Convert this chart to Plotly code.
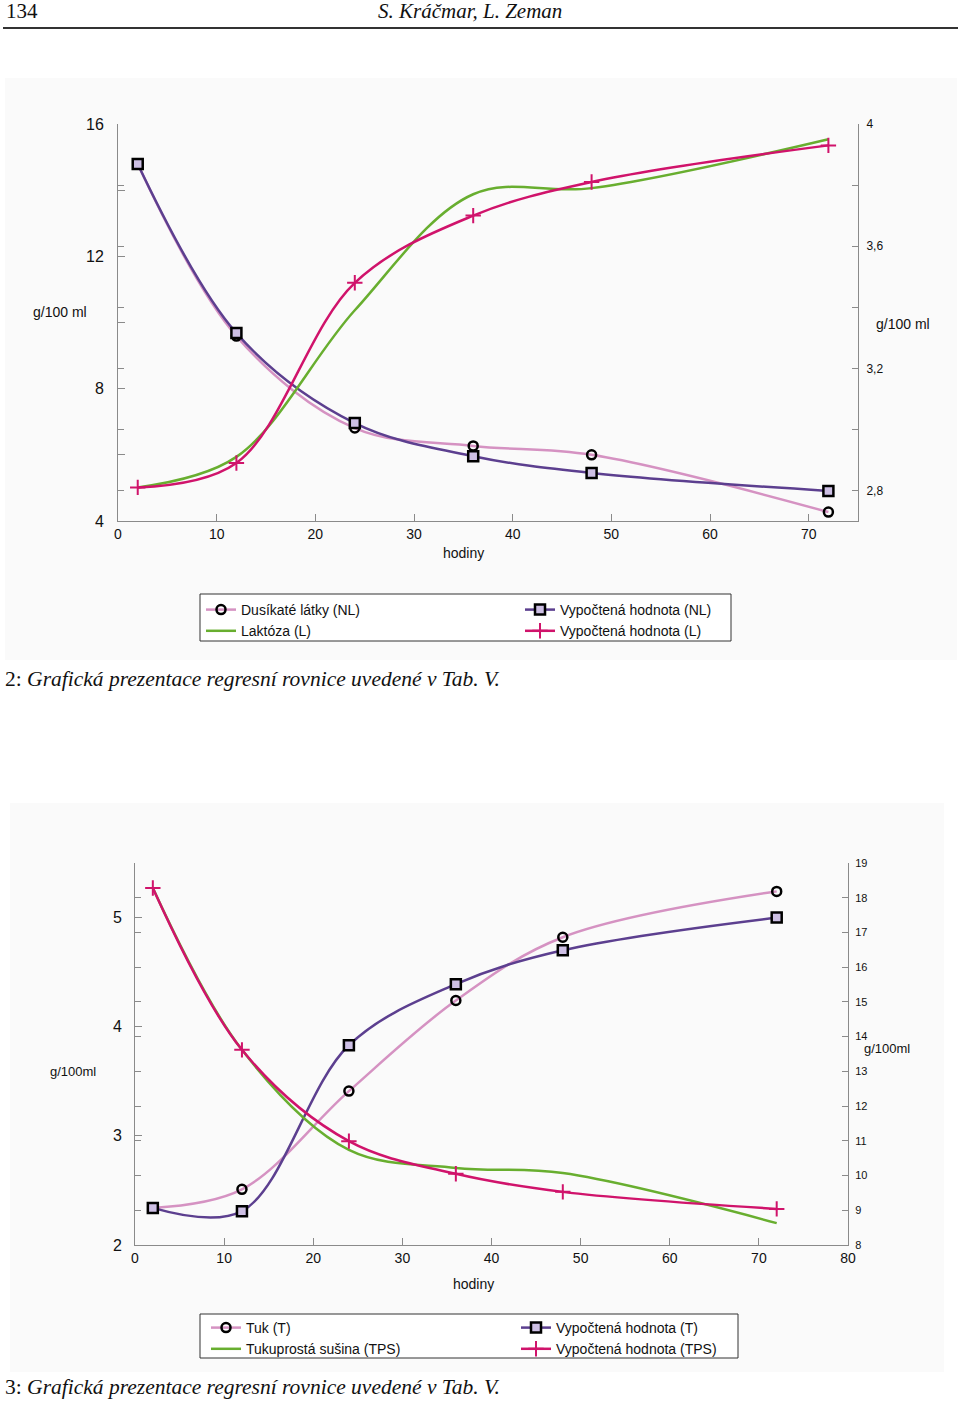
import plotly.graph_objects as go

# ---------------- data ----------------
hours = [2, 12, 24, 36, 48, 72]

# Fig. 2 – nitrogen compounds (left axis) and lactose (right axis), g/100 ml
nl_measured = [14.79, 9.59, 6.81, 6.27, 6.00, 4.27]
nl_calc = [14.79, 9.68, 6.96, 5.96, 5.45, 4.91]
lact_measured = [2.81, 2.91, 3.39, 3.77, 3.79, 3.95]
lact_calc = [2.81, 2.89, 3.48, 3.70, 3.81, 3.93]

# Fig. 3 – fat (left axis) and fat-free dry matter (right axis), g/100 ml
fat_measured = [2.34, 2.51, 3.41, 4.24, 4.82, 5.24]
fat_calc = [2.34, 2.31, 3.83, 4.39, 4.70, 5.00]
tps_measured = [18.28, 13.62, 10.74, 10.22, 10.07, 8.63]
tps_calc = [18.28, 13.62, 10.99, 10.05, 9.53, 9.04]

x_ticks_1 = [0, 10, 20, 30, 40, 50, 60, 70]
x_ticks_2 = [0, 10, 20, 30, 40, 50, 60, 70, 80]
left_ticks_1 = [4, 8, 12, 16]
left_minor_1 = [6, 10, 14]
right_ticks_1 = [2.8, 3.2, 3.6, 4.0]
right_labels_1 = ["2,8", "3,2", "3,6", "4"]
right_minor_1 = [3.0, 3.4, 3.8]
left_ticks_2 = [2, 3, 4, 5]
right_ticks_2 = [8, 9, 10, 11, 12, 13, 14, 15, 16, 17, 18, 19]

names_1 = ["Dusíkaté látky (NL)", "Vypočtená hodnota (NL)", "Laktóza (L)", "Vypočtená hodnota (L)"]
names_2 = ["Tuk (T)", "Vypočtená hodnota (T)", "Tukuprostá sušina (TPS)", "Vypočtená hodnota (TPS)"]

# ---------------- style ----------------
W, H = 960, 1402
ML, MR = 100, 100
PW = W - ML - MR
PINK = "#d592c2"
PURPLE = "#5c3f8f"
GREEN = "#68ae2f"
MAGENTA = "#d0136b"
AXC = "#8a8a8a"
SANS = "Liberation Sans, Arial, sans-serif"
SERIF = "Liberation Serif, Times New Roman, serif"


def px(x):
    return (x - ML) / PW


def py(y):
    return 1 - y / H


circ = dict(symbol="circle-open", size=9, color="black", line=dict(width=2.5, color="black"))
sq = dict(symbol="square", size=10, color="#cdbfe4", line=dict(width=2.5, color="black"))
plus = dict(symbol="cross-thin", size=11, color=MAGENTA, line=dict(width=2, color=MAGENTA))

fig = go.Figure()


def add_chart(xa, yl, yr, leg, m_left, c_left, m_right, c_right, names):
    fig.add_trace(go.Scatter(x=hours, y=m_right, xaxis=xa, yaxis=yr, mode="lines", name=names[2],
                             line=dict(color=GREEN, width=2.5, shape="spline"),
                             legend=leg, legendrank=3))
    fig.add_trace(go.Scatter(x=hours, y=c_right, xaxis=xa, yaxis=yr, mode="lines+markers", name=names[3],
                             line=dict(color=MAGENTA, width=2.5, shape="spline"), marker=plus,
                             legend=leg, legendrank=4))
    fig.add_trace(go.Scatter(x=hours, y=m_left, xaxis=xa, yaxis=yl, mode="lines+markers", name=names[0],
                             line=dict(color=PINK, width=2.5, shape="spline"), marker=circ,
                             legend=leg, legendrank=1))
    fig.add_trace(go.Scatter(x=hours, y=c_left, xaxis=xa, yaxis=yl, mode="lines+markers", name=names[1],
                             line=dict(color=PURPLE, width=2.5, shape="spline"), marker=sq,
                             legend=leg, legendrank=2))


add_chart("x", "y", "y2", "legend", nl_measured, nl_calc, lact_measured, lact_calc, names_1)
add_chart("x2", "y3", "y4", "legend2", fat_measured, fat_calc, tps_measured, tps_calc, names_2)

base_axis = dict(showgrid=False, zeroline=False, showline=True, linecolor=AXC, linewidth=1,
                 ticks="inside", tickcolor=AXC, ticklen=7, automargin=False,
                 tickfont=dict(family=SANS, color="#111"))

fig.update_layout(
    width=W, height=H, template="none",
    margin=dict(l=ML, r=MR, t=0, b=0, pad=0),
    paper_bgcolor="white", plot_bgcolor="rgba(0,0,0,0)",
    font=dict(family=SANS, color="#111"),
    xaxis=dict(base_axis, domain=[px(118), px(858)], anchor="y", range=[0, 75],
               tickvals=x_ticks_1, tickfont=dict(family=SANS, size=14, color="#111")),
    yaxis=dict(base_axis, domain=[py(521), py(124)], anchor="x", range=[4, 16],
               tickvals=left_ticks_1, ticklabelstandoff=10,
               minor=dict(tickvals=left_minor_1, ticks="inside", ticklen=7, tickcolor=AXC),
               tickfont=dict(family=SANS, size=16, color="#111")),
    yaxis2=dict(base_axis, overlaying="y", side="right", anchor="x", range=[2.7, 4],
                tickvals=right_ticks_1, ticktext=right_labels_1, mirror="ticks", ticklen=6,
                ticklabelstandoff=5,
                minor=dict(tickvals=right_minor_1, ticks="inside", ticklen=6, tickcolor=AXC),
                tickfont=dict(family=SANS, size=12, color="#111")),
    xaxis2=dict(base_axis, domain=[px(135), px(848)], anchor="y3", range=[0, 80],
                tickvals=x_ticks_2, tickfont=dict(family=SANS, size=14, color="#111")),
    yaxis3=dict(base_axis, domain=[py(1245), py(863)], anchor="x2", range=[2, 5.5],
                tickvals=left_ticks_2, ticklabelstandoff=9,
                tickfont=dict(family=SANS, size=16, color="#111")),
    yaxis4=dict(base_axis, overlaying="y3", side="right", anchor="x2", range=[8, 19],
                tickvals=right_ticks_2, mirror="ticks", ticklen=6, ticklabelstandoff=4,
                tickfont=dict(family=SANS, size=11, color="#111")),
    legend=dict(orientation="h", x=px(201), y=py(594), xanchor="left", yanchor="top",
                entrywidth=274, entrywidthmode="pixels", borderwidth=0, bgcolor="rgba(0,0,0,0)",
                font=dict(family=SANS, size=14, color="#111"), itemwidth=30, tracegroupgap=0),
    legend2=dict(orientation="h", x=px(206), y=py(1312), xanchor="left", yanchor="top",
                 entrywidth=265, entrywidthmode="pixels", borderwidth=0, bgcolor="rgba(0,0,0,0)",
                 font=dict(family=SANS, size=14, color="#111"), itemwidth=30, tracegroupgap=0),
    showlegend=True,
)

shapes = [
    # faint panel backgrounds
    dict(type="rect", xref="paper", yref="paper", x0=px(5), x1=px(957), y0=py(660), y1=py(78),
         fillcolor="#fafafa", line=dict(width=0), layer="below"),
    dict(type="rect", xref="paper", yref="paper", x0=px(10), x1=px(944), y0=py(1372), y1=py(803),
         fillcolor="#fafafa", line=dict(width=0), layer="below"),
    # header rule
    dict(type="line", xref="paper", yref="paper", x0=px(3), x1=px(958), y0=py(28), y1=py(28),
         line=dict(color="#333", width=2)),
    # legend boxes
    dict(type="rect", xref="paper", yref="paper", x0=px(200), x1=px(731), y0=py(641), y1=py(594),
         line=dict(color="#333", width=1), fillcolor="white", layer="below"),
    dict(type="rect", xref="paper", yref="paper", x0=px(200), x1=px(738), y0=py(1358), y1=py(1314),
         line=dict(color="#333", width=1), fillcolor="white", layer="below"),
]


def ann(text, x, y, size, family=SANS, xanchor="center", italic=False):
    return dict(text=text, x=px(x), y=py(y), xref="paper", yref="paper", showarrow=False,
                xanchor=xanchor, yanchor="middle",
                font=dict(family=family, size=size, color="#111",
                          style="italic" if italic else "normal"))


annotations = [
    ann("134", 4, 11, 21, SERIF, xanchor="left"),
    ann("S. Kráčmar, L. Zeman", 470, 11, 21, SERIF, italic=True),
    ann("g/100 ml", 60, 312, 14),
    ann("g/100 ml", 903, 324, 14),
    ann("hodiny", 463, 553, 14),
    ann("2: <i>Grafická prezentace regresní rovnice uvedené v Tab. V.</i>", 3, 679, 21.5, SERIF, xanchor="left"),
    ann("g/100ml", 73, 1071, 13),
    ann("g/100ml", 887, 1048, 13),
    ann("hodiny", 473, 1284, 14),
    ann("3: <i>Grafická prezentace regresní rovnice uvedené v Tab. V.</i>", 3, 1387, 21.5, SERIF, xanchor="left"),
]

fig.update_layout(shapes=shapes, annotations=annotations)

fig.write_html("out.html", config={"displayModeBar": False},
               post_script="document.body.style.margin='0px';")
